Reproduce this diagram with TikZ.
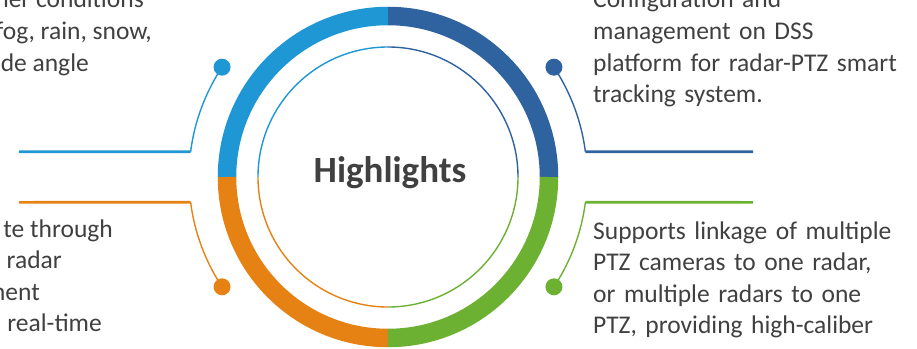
\documentclass[tikz,border=0pt]{standalone}
\usepackage{fontspec}
\setmainfont{Carlito}
\definecolor{bleuclair}{HTML}{1F97D4}
\definecolor{bleufonce}{HTML}{2E63A0}
\definecolor{orangevif}{HTML}{E58213}
\definecolor{vert}{HTML}{6CB132}
\definecolor{gristexte}{HTML}{404040}

\begin{document}
\begin{tikzpicture}[x=1pt, y=1pt]
\tikzset{pastille/.style={circle, fill, inner sep=0pt, minimum size=17pt},
  anneau/.style={line width=18.5pt},
  trait/.style={line width=2.6pt},
  lien/.style={line width=1.4pt},
  texte/.style={text=gristexte, inner sep=0pt, font=\fontsize{25.5}{31.6}\selectfont},
  bloc/.style={texte, anchor=base west, text width=330pt, align=left},
  morceau/.style={texte, anchor=base east}}
\useasboundingbox (-388, -171) rectangle (529, 177);
\clip (-388, -171) rectangle (529, 177);
% anneau epais
\draw[anneau, bleufonce] (90:161) arc[start angle=90, end angle=0, radius=161];
\draw[anneau, bleuclair] (90:161) arc[start angle=90, end angle=180, radius=161];
\draw[anneau, orangevif] (270:161) arc[start angle=270, end angle=180, radius=161];
\draw[anneau, vert] (270:161) arc[start angle=270, end angle=360, radius=161];
% cercle fin
\draw[lien, bleufonce] (90:130) arc[start angle=90, end angle=0, radius=130];
\draw[lien, bleuclair] (90:130) arc[start angle=90, end angle=180, radius=130];
\draw[lien, orangevif] (270:130) arc[start angle=270, end angle=180, radius=130];
\draw[lien, vert] (270:130) arc[start angle=270, end angle=360, radius=130];
\node[text=gristexte, font=\fontsize{37}{42}\selectfont\bfseries, anchor=base] (H) at (2, -5) {Highlights};
% pastilles
\node[pastille, bleuclair] (P1) at (146.5:199) {};
\node[pastille, bleufonce] (P2) at (33.5:199) {};
\node[pastille, orangevif] (P3) at (213.5:199) {};
\node[pastille, vert] (P4) at (-33.5:199) {};
% coins et bouts des traits
\coordinate (K1) at (172.7:199);
\coordinate (K2) at (7.3:199);
\coordinate (K3) at (187.3:199);
\coordinate (K4) at (-7.3:199);
\coordinate (L1) at (-369, 25.3);
\coordinate (L2) at (365, 25.3);
\coordinate (L3) at (-369, -25.3);
\coordinate (L4) at (365, -25.3);
\draw[trait, bleuclair] (L1) -- (K1);
\draw[trait, bleufonce] (L2) -- (K2);
\draw[trait, orangevif] (L3) -- (K3);
\draw[trait, vert] (L4) -- (K4);
\draw[lien, bleuclair] (K1) arc[start angle=172.7, end angle=146.5, radius=199];
\draw[lien, bleufonce] (K2) arc[start angle=7.3, end angle=33.5, radius=199];
\draw[lien, orangevif] (K3) arc[start angle=187.3, end angle=213.5, radius=199];
\draw[lien, vert] (K4) arc[start angle=-7.3, end angle=-33.5, radius=199];
% textes
\node[bloc] (T2) at (205, 169) {Configuration and\\management on DSS\\platform for radar-PTZ smart\\tracking system.};
\node[bloc] (T4) at (205, -62) {Supports linkage of multiple\\PTZ cameras to one radar,\\or multiple radars to one\\PTZ, providing high-caliber};
\node[morceau] (T1a) at (-244, 169) {her conditions};
\node[morceau] (T1b) at (-236, 137.4) {fog, rain, snow,};
\node[morceau] (T1c) at (-299, 105.8) {de angle};
\node[morceau] (T3a) at (-275, -60) {te through};
\node[morceau] (T3b) at (-326, -91.6) {radar};
\node[morceau] (T3c) at (-348, -123.2) {ment};
\node[morceau] (T3d) at (-286, -154.8) {real-time};
\end{tikzpicture}
\end{document}
